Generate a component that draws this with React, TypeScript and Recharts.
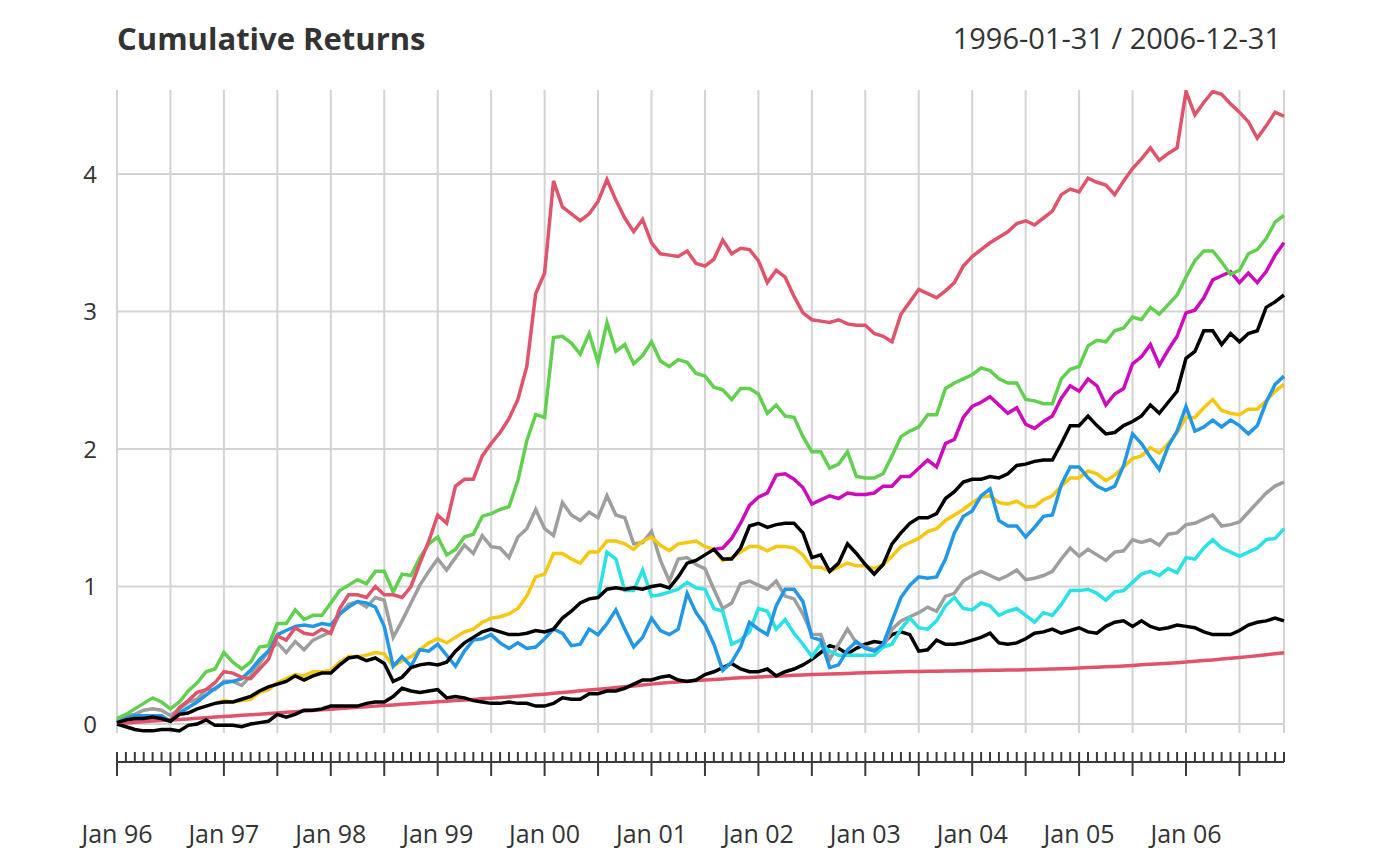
import {
  LineChart,
  Line,
  XAxis,
  YAxis,
  ReferenceLine,
} from "recharts";

// cumulative returns, monthly, Jan 1996 .. Dec 2006 (132 points)
const yearLabels = ["Jan 96", "Jan 97", "Jan 98", "Jan 99", "Jan 00", "Jan 01", "Jan 02", "Jan 03", "Jan 04", "Jan 05", "Jan 06"];
const yTicks = [0, 1, 2, 3, 4];
const gridMonths = [0, 6, 12, 18, 24, 30, 36, 42, 48, 54, 60, 66, 72, 78, 84, 90, 96, 102, 108, 114, 120, 126, 131];

const pad = (n: number) => Array(n).fill(null);

const ham1 = [
  0.01, 0.03, 0.04, 0.04, 0.05, 0.04, 0.02, 0.07, 0.08, 0.11, 0.13, 0.15,
  0.16, 0.16, 0.18, 0.20, 0.24, 0.27, 0.29, 0.31, 0.35, 0.32, 0.35, 0.37,
  0.37, 0.43, 0.48, 0.49, 0.46, 0.48, 0.44, 0.31, 0.34, 0.41, 0.43, 0.44,
  0.43, 0.45, 0.53, 0.59, 0.63, 0.67, 0.69, 0.67, 0.65, 0.65, 0.66, 0.68,
  0.67, 0.69, 0.77, 0.82, 0.88, 0.91, 0.92, 0.98, 0.99, 0.98, 0.99, 0.98,
  1.00, 1.01, 0.99, 1.07, 1.17, 1.19, 1.23, 1.27, 1.20, 1.20, 1.28, 1.44,
  1.46, 1.43, 1.45, 1.46, 1.46, 1.39, 1.21, 1.23, 1.11, 1.17, 1.31, 1.24,
  1.16, 1.09, 1.16, 1.31, 1.39, 1.46, 1.50, 1.50, 1.53, 1.64, 1.69, 1.76,
  1.78, 1.78, 1.80, 1.79, 1.82, 1.88, 1.89, 1.91, 1.92, 1.92, 2.04, 2.17,
  2.17, 2.24, 2.17, 2.11, 2.12, 2.17, 2.20, 2.24, 2.32, 2.26, 2.34, 2.42,
  2.66, 2.71, 2.86, 2.86, 2.76, 2.84, 2.78, 2.84, 2.86, 3.03, 3.07, 3.12,
];

const ham2 = [
  0.01, 0.02, 0.03, 0.04, 0.04, 0.04, 0.02, 0.12, 0.17, 0.23, 0.25, 0.30,
  0.38, 0.37, 0.34, 0.33, 0.40, 0.47, 0.64, 0.61, 0.70, 0.66, 0.65, 0.69,
  0.66, 0.84, 0.94, 0.94, 0.92, 1.00, 0.94, 0.94, 0.92, 1.00, 1.17, 1.33,
  1.52, 1.46, 1.73, 1.78, 1.78, 1.95, 2.04, 2.12, 2.22, 2.36, 2.60, 3.13,
  3.28, 3.95, 3.76, 3.71, 3.66, 3.71, 3.80, 3.96, 3.81, 3.68, 3.58, 3.67,
  3.50, 3.42, 3.41, 3.40, 3.44, 3.35, 3.33, 3.38, 3.52, 3.42, 3.46, 3.45,
  3.37, 3.21, 3.30, 3.25, 3.11, 2.99, 2.94, 2.93, 2.92, 2.94, 2.91, 2.90,
  2.90, 2.84, 2.82, 2.78, 2.98, 3.07, 3.16, 3.13, 3.10, 3.15, 3.21, 3.33,
  3.40, 3.45, 3.50, 3.54, 3.58, 3.64, 3.66, 3.63, 3.68, 3.73, 3.85, 3.89,
  3.87, 3.97, 3.94, 3.92, 3.85, 3.95, 4.04, 4.11, 4.19, 4.10, 4.15, 4.19,
  4.60, 4.43, 4.52, 4.60, 4.58, 4.51, 4.45, 4.38, 4.26, 4.35, 4.45, 4.42,
];

const ham3 = [
  0.04, 0.07, 0.11, 0.15, 0.19, 0.16, 0.11, 0.16, 0.24, 0.30, 0.38, 0.40,
  0.52, 0.45, 0.40, 0.45, 0.56, 0.57, 0.73, 0.73, 0.83, 0.76, 0.79, 0.79,
  0.88, 0.97, 1.01, 1.05, 1.02, 1.11, 1.11, 0.96, 1.09, 1.08, 1.21, 1.31,
  1.36, 1.23, 1.27, 1.36, 1.38, 1.51, 1.53, 1.56, 1.58, 1.77, 2.06, 2.25,
  2.23, 2.81, 2.82, 2.77, 2.69, 2.84, 2.63, 2.92, 2.71, 2.76, 2.62, 2.68,
  2.78, 2.64, 2.60, 2.65, 2.63, 2.55, 2.53, 2.45, 2.43, 2.36, 2.44, 2.44,
  2.40, 2.26, 2.32, 2.24, 2.23, 2.09, 1.98, 1.98, 1.86, 1.89, 1.98, 1.80,
  1.79, 1.79, 1.82, 1.95, 2.09, 2.13, 2.16, 2.25, 2.25, 2.44, 2.48, 2.51,
  2.54, 2.59, 2.57, 2.51, 2.48, 2.48, 2.36, 2.35, 2.33, 2.33, 2.51, 2.58,
  2.60, 2.75, 2.79, 2.78, 2.86, 2.88, 2.96, 2.94, 3.03, 2.98, 3.05, 3.12,
  3.25, 3.37, 3.44, 3.44, 3.36, 3.27, 3.30, 3.42, 3.45, 3.53, 3.65, 3.70,
];

const ham4 = [
  0.01, 0.04, 0.06, 0.06, 0.06, 0.06, 0.02, 0.08, 0.12, 0.16, 0.21, 0.26,
  0.30, 0.31, 0.33, 0.39, 0.47, 0.53, 0.65, 0.68, 0.71, 0.72, 0.71, 0.73,
  0.72, 0.80, 0.85, 0.89, 0.88, 0.85, 0.71, 0.42, 0.49, 0.42, 0.54, 0.53,
  0.58, 0.50, 0.42, 0.53, 0.61, 0.62, 0.65, 0.59, 0.55, 0.59, 0.55, 0.56,
  0.62, 0.69, 0.66, 0.57, 0.58, 0.69, 0.65, 0.73, 0.83, 0.69, 0.56, 0.63,
  0.77, 0.68, 0.65, 0.69, 0.95, 0.81, 0.72, 0.58, 0.39, 0.45, 0.56, 0.74,
  0.69, 0.65, 0.86, 0.98, 0.98, 0.89, 0.63, 0.61, 0.41, 0.43, 0.54, 0.60,
  0.55, 0.53, 0.58, 0.75, 0.92, 1.01, 1.07, 1.06, 1.07, 1.20, 1.39, 1.51,
  1.55, 1.66, 1.71, 1.48, 1.44, 1.44, 1.36, 1.43, 1.51, 1.52, 1.74, 1.87,
  1.87, 1.79, 1.73, 1.70, 1.73, 1.88, 2.11, 2.04, 1.94, 1.85, 2.02, 2.13,
  2.31, 2.13, 2.16, 2.21, 2.16, 2.21, 2.17, 2.11, 2.17, 2.34, 2.47, 2.53,
];

const ham5 = [
  ...pad(54),
  0.92, 1.25, 1.20, 0.97, 0.97, 1.12,
  0.93, 0.94, 0.96, 0.98, 1.03, 0.99, 0.98, 0.84, 0.82, 0.58, 0.61, 0.67,
  0.84, 0.82, 0.69, 0.76, 0.66, 0.58, 0.49, 0.58, 0.53, 0.50, 0.50, 0.50,
  0.50, 0.50, 0.56, 0.58, 0.69, 0.77, 0.70, 0.69, 0.75, 0.86, 0.92, 0.84,
  0.83, 0.88, 0.86, 0.79, 0.82, 0.84, 0.79, 0.74, 0.81, 0.79, 0.87, 0.97,
  0.97, 0.98, 0.95, 0.90, 0.96, 0.97, 1.03, 1.09, 1.11, 1.08, 1.13, 1.10,
  1.21, 1.20, 1.28, 1.34, 1.28, 1.25, 1.22, 1.25, 1.28, 1.34, 1.35, 1.42,
];

const ham6 = [
  ...pad(67),
  1.27, 1.28, 1.35, 1.46, 1.59,
  1.65, 1.68, 1.81, 1.82, 1.78, 1.72, 1.60, 1.63, 1.66, 1.64, 1.68, 1.67,
  1.67, 1.68, 1.73, 1.73, 1.80, 1.80, 1.86, 1.92, 1.87, 2.04, 2.07, 2.23,
  2.31, 2.34, 2.38, 2.32, 2.26, 2.30, 2.18, 2.15, 2.20, 2.24, 2.37, 2.46,
  2.42, 2.51, 2.46, 2.32, 2.40, 2.44, 2.62, 2.67, 2.76, 2.61, 2.72, 2.82,
  2.99, 3.01, 3.10, 3.23, 3.26, 3.29, 3.21, 3.28, 3.21, 3.29, 3.41, 3.50,
];

const edhecLsEq = [
  ...pad(11),
  0.15,
  0.17, 0.16, 0.17, 0.18, 0.23, 0.25, 0.30, 0.33, 0.36, 0.35, 0.38, 0.38,
  0.39, 0.45, 0.49, 0.49, 0.50, 0.52, 0.51, 0.42, 0.46, 0.49, 0.54, 0.59,
  0.62, 0.59, 0.63, 0.67, 0.69, 0.74, 0.77, 0.78, 0.80, 0.84, 0.93, 1.07,
  1.09, 1.24, 1.24, 1.20, 1.17, 1.25, 1.25, 1.33, 1.33, 1.31, 1.27, 1.33,
  1.36, 1.30, 1.26, 1.31, 1.32, 1.33, 1.29, 1.27, 1.19, 1.21, 1.25, 1.29,
  1.29, 1.26, 1.29, 1.29, 1.28, 1.23, 1.14, 1.14, 1.11, 1.14, 1.17, 1.15,
  1.15, 1.13, 1.16, 1.22, 1.29, 1.32, 1.35, 1.40, 1.42, 1.48, 1.52, 1.56,
  1.61, 1.65, 1.66, 1.61, 1.60, 1.62, 1.58, 1.58, 1.63, 1.66, 1.73, 1.79,
  1.79, 1.84, 1.82, 1.77, 1.81, 1.87, 1.93, 1.95, 2.01, 1.97, 2.04, 2.12,
  2.23, 2.23, 2.30, 2.36, 2.28, 2.26, 2.25, 2.29, 2.29, 2.35, 2.42, 2.47,
];

const sp500 = [
  0.02, 0.06, 0.07, 0.10, 0.11, 0.10, 0.06, 0.11, 0.16, 0.18, 0.25, 0.25,
  0.31, 0.31, 0.28, 0.35, 0.44, 0.53, 0.59, 0.52, 0.60, 0.54, 0.61, 0.64,
  0.67, 0.80, 0.87, 0.89, 0.85, 0.92, 0.90, 0.63, 0.75, 0.88, 1.01, 1.11,
  1.20, 1.12, 1.21, 1.30, 1.24, 1.37, 1.29, 1.28, 1.21, 1.36, 1.42, 1.56,
  1.42, 1.37, 1.61, 1.52, 1.48, 1.54, 1.50, 1.66, 1.52, 1.50, 1.31, 1.32,
  1.40, 1.19, 1.04, 1.20, 1.21, 1.16, 1.13, 0.98, 0.84, 0.88, 1.02, 1.04,
  1.01, 0.98, 1.04, 0.93, 0.91, 0.80, 0.65, 0.65, 0.47, 0.58, 0.69, 0.59,
  0.56, 0.54, 0.56, 0.69, 0.75, 0.78, 0.81, 0.85, 0.82, 0.93, 0.95, 1.04,
  1.08, 1.11, 1.08, 1.05, 1.08, 1.12, 1.05, 1.06, 1.08, 1.11, 1.20, 1.28,
  1.22, 1.27, 1.23, 1.19, 1.25, 1.26, 1.34, 1.32, 1.34, 1.30, 1.38, 1.39,
  1.45, 1.46, 1.49, 1.52, 1.44, 1.45, 1.47, 1.54, 1.61, 1.68, 1.73, 1.76,
];

const us10y = [
  0.00, -0.02, -0.04, -0.05, -0.05, -0.04, -0.04, -0.05, -0.01, 0.00, 0.03, -0.01,
  -0.01, -0.01, -0.02, 0.00, 0.01, 0.02, 0.07, 0.05, 0.07, 0.10, 0.10, 0.11,
  0.13, 0.13, 0.13, 0.13, 0.15, 0.16, 0.16, 0.20, 0.26, 0.24, 0.23, 0.24,
  0.25, 0.19, 0.20, 0.19, 0.17, 0.16, 0.15, 0.15, 0.16, 0.15, 0.15, 0.13,
  0.13, 0.15, 0.19, 0.18, 0.18, 0.22, 0.22, 0.24, 0.24, 0.26, 0.29, 0.32,
  0.32, 0.34, 0.35, 0.32, 0.31, 0.32, 0.36, 0.38, 0.41, 0.44, 0.40, 0.38,
  0.38, 0.40, 0.35, 0.38, 0.40, 0.43, 0.47, 0.52, 0.57, 0.55, 0.51, 0.55,
  0.58, 0.60, 0.59, 0.65, 0.67, 0.65, 0.53, 0.54, 0.61, 0.58, 0.58, 0.59,
  0.61, 0.63, 0.66, 0.59, 0.58, 0.59, 0.62, 0.66, 0.67, 0.69, 0.66, 0.68,
  0.70, 0.67, 0.66, 0.71, 0.74, 0.75, 0.71, 0.75, 0.71, 0.69, 0.70, 0.72,
  0.71, 0.70, 0.67, 0.65, 0.65, 0.65, 0.68, 0.72, 0.74, 0.75, 0.77, 0.75,
];

const us3m = [
  0.004, 0.008, 0.012, 0.016, 0.021, 0.025, 0.029, 0.033, 0.037, 0.041, 0.045, 0.050,
  0.054, 0.058, 0.063, 0.067, 0.071, 0.076, 0.080, 0.085, 0.089, 0.094, 0.098, 0.103,
  0.107, 0.112, 0.116, 0.121, 0.125, 0.130, 0.134, 0.139, 0.143, 0.148, 0.152, 0.156,
  0.161, 0.165, 0.170, 0.174, 0.179, 0.183, 0.188, 0.192, 0.197, 0.202, 0.207, 0.212,
  0.217, 0.223, 0.229, 0.235, 0.241, 0.247, 0.253, 0.259, 0.265, 0.271, 0.277, 0.283,
  0.290, 0.296, 0.301, 0.306, 0.311, 0.316, 0.320, 0.324, 0.328, 0.332, 0.336, 0.339,
  0.342, 0.345, 0.348, 0.351, 0.354, 0.357, 0.360, 0.362, 0.364, 0.366, 0.368, 0.370,
  0.372, 0.374, 0.376, 0.378, 0.380, 0.381, 0.382, 0.383, 0.384, 0.385, 0.386, 0.387,
  0.388, 0.389, 0.390, 0.391, 0.392, 0.393, 0.394, 0.396, 0.398, 0.400, 0.402, 0.404,
  0.407, 0.410, 0.413, 0.416, 0.419, 0.422, 0.426, 0.430, 0.434, 0.438, 0.442, 0.446,
  0.451, 0.456, 0.461, 0.466, 0.472, 0.478, 0.484, 0.490, 0.497, 0.504, 0.511, 0.518,
];

// drawn first-to-last, so HAM1 ends up on top
const SERIES = [
  { key: "us3m", values: us3m, color: "#DF536B" },
  { key: "us10y", values: us10y, color: "#000000" },
  { key: "sp500", values: sp500, color: "#9E9E9E" },
  { key: "edhec", values: edhecLsEq, color: "#F5C710" },
  { key: "ham6", values: ham6, color: "#CD0BBC" },
  { key: "ham5", values: ham5, color: "#28E2E5" },
  { key: "ham4", values: ham4, color: "#2297E6" },
  { key: "ham3", values: ham3, color: "#61D04F" },
  { key: "ham2", values: ham2, color: "#DF536B" },
  { key: "ham1", values: ham1, color: "#000000" },
];

const data = ham1.map((_, i) => {
  const row: Record<string, number | null> = { i };
  SERIES.forEach((s) => {
    row[s.key] = s.values[i];
  });
  return row;
});
const monthTicks = data.map((d) => d.i as number);

const W = 1400;
const H = 866;
const PLOT_LEFT = 117;
const PLOT_RIGHT = 1284;
const PLOT_TOP = 90;
const PLOT_BOTTOM = 733;
const FONT = "'Open Sans', sans-serif";
const TEXT = "#333333";
const GRID = "#D3D3D3";

// eslint-disable-next-line @typescript-eslint/no-explicit-any
function MonthTick(props: any) {
  const { x, y, payload } = props;
  const i = payload.value as number;
  const axisY = y + 29;
  const major = i % 6 === 0;
  return (
    <g>
      {i === 0 && (
        <line x1={x} x2={x + (PLOT_RIGHT - PLOT_LEFT)} y1={axisY} y2={axisY} stroke="#3a3a3a" strokeWidth={2} />
      )}
      <line x1={x} x2={x} y1={axisY - 10} y2={major ? axisY + 14 : axisY} stroke="#3a3a3a" strokeWidth={2} />
      {i % 12 === 0 && (
        <text x={x} y={axisY + 81} textAnchor="middle" fontSize={25} fill={TEXT} fontFamily={FONT}>
          {yearLabels[i / 12]}
        </text>
      )}
    </g>
  );
}

export default function App() {
  return (
    <div style={{ position: "absolute", left: 0, top: 0, width: W, height: H, background: "#fff" }}>
      <LineChart
        width={W}
        height={H}
        data={data}
        margin={{ top: PLOT_TOP, right: W - PLOT_RIGHT, left: 0, bottom: 0 }}
      >
        {yTicks.map((v) => (
          <ReferenceLine key={`h${v}`} y={v} stroke={GRID} strokeWidth={2} />
        ))}
        {gridMonths.map((m) => (
          <ReferenceLine key={`g${m}`} x={m} stroke={GRID} strokeWidth={2} />
        ))}
        <XAxis
          dataKey="i"
          type="number"
          domain={[0, 131]}
          ticks={monthTicks}
          interval={0}
          height={H - PLOT_BOTTOM}
          axisLine={false}
          tickLine={false}
          tickSize={0}
          tickMargin={0}
          tick={<MonthTick />}
        />
        <YAxis
          type="number"
          domain={[-0.0655, 4.611]}
          allowDataOverflow
          ticks={yTicks}
          width={PLOT_LEFT}
          axisLine={false}
          tickLine={false}
          tickSize={0}
          tickMargin={20}
          tick={{ fontSize: 24, fill: TEXT, fontFamily: FONT }}
        />
        {SERIES.map((s) => (
          <Line
            key={s.key}
            type="linear"
            dataKey={s.key}
            stroke={s.color}
            strokeWidth={3.5}
            dot={false}
            activeDot={false}
            isAnimationActive={false}
          />
        ))}
      </LineChart>
      <svg width={W} height={H} style={{ position: "absolute", left: 0, top: 0, pointerEvents: "none" }}>
        <text x={PLOT_LEFT} y={50} fontSize={31} fontWeight={700} fill={TEXT} fontFamily={FONT}>
          Cumulative Returns
        </text>
        <text x={PLOT_RIGHT - 3} y={49} fontSize={29} textAnchor="end" fill={TEXT} fontFamily={FONT}>
          1996-01-31 / 2006-12-31
        </text>
      </svg>
    </div>
  );
}
